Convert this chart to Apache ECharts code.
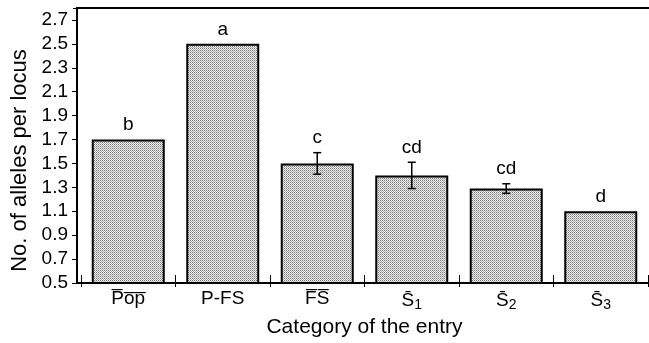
<!DOCTYPE html>
<html>
<head>
<meta charset="utf-8">
<script src="https://cdn.jsdelivr.net/npm/echarts@6/dist/echarts.min.js"></script>
<style>
html,body{margin:0;padding:0;background:#fff;}
#chart{width:649px;height:343px;}
</style>
</head>
<body>
<div id="chart"></div>
<script>
// ---- data ----
const categories = ['P\u0305o\u0305p\u0305', 'P-FS', 'F\u0305S\u0305', 'S\u03041', 'S\u03042', 'S\u03043'];
const means = [1.7, 2.5, 1.5, 1.4, 1.29, 1.1];
const errors = [0, 0, 0.09, 0.11, 0.04, 0];
const letters = ['b', 'a', 'c', 'cd', 'cd', 'd'];
const yMin = 0.5, yMax = 2.8, yStep = 0.2;
const yName = 'No. of alleles per locus';
const xName = 'Category of the entry';

const FONT = '"Liberation Sans", Arial, Helvetica, sans-serif';

// stipple fill pattern
const cv = document.createElement('canvas');
cv.width = 2; cv.height = 2;
const cx = cv.getContext('2d');
cx.fillStyle = '#ececec'; cx.fillRect(0, 0, 2, 2);
cx.fillStyle = '#7a7a7a'; cx.fillRect(0, 0, 1, 1);
cx.fillStyle = '#b0b0b0'; cx.fillRect(1, 1, 1, 1);

const chart = echarts.init(document.getElementById('chart'), null, {renderer: 'canvas'});

function catLabel(v) {
  const m = v.match(/^(.*?)(\d)$/);
  if (m) return '{m|' + m[1] + '}{s|' + m[2] + '}';
  return '{m|' + v + '}';
}

const option = {
  animation: false,
  backgroundColor: '#fff',
  textStyle: {fontFamily: FONT, color: '#000'},
  grid: [
    {left: 77, right: 0, top: 8, bottom: 60},
    {left: 81, right: 1, top: 8, bottom: 60}
  ],
  xAxis: [
    {gridIndex: 0, type: 'value', min: 0, max: 1, position: 'bottom',
     axisLine: {show: true, lineStyle: {color: '#000', width: 2}},
     axisTick: {show: false}, axisLabel: {show: false}, splitLine: {show: false}},
    {gridIndex: 0, type: 'value', min: 0, max: 1, position: 'top',
     axisLine: {show: true, lineStyle: {color: '#000', width: 2}},
     axisTick: {show: false}, axisLabel: {show: false}, splitLine: {show: false}},
    {gridIndex: 1, type: 'category', data: categories, position: 'bottom',
     axisLine: {show: false},
     axisTick: {show: true, length: 4, lineStyle: {color: '#000', width: 1}},
     axisLabel: {margin: 6, color: '#000', formatter: catLabel,
       rich: {
         m: {fontFamily: FONT, fontSize: 19, color: '#000'},
         s: {fontFamily: FONT, fontSize: 14, color: '#000', padding: [9, 0, 0, 0]}
       }},
     name: xName, nameLocation: 'middle', nameGap: 27,
     nameTextStyle: {fontFamily: FONT, fontSize: 21, color: '#000'}},
    {gridIndex: 1, type: 'category', data: categories, position: 'bottom',
     axisLine: {show: false},
     axisTick: {show: true, inside: true, length: 8, lineStyle: {color: '#000', width: 1}},
     axisLabel: {show: false}}
  ],
  yAxis: [
    {gridIndex: 0, type: 'value', min: yMin, max: yMax, interval: yStep,
     axisLine: {show: true, lineStyle: {color: '#000', width: 2}},
     axisTick: {show: true, length: 5, lineStyle: {color: '#000', width: 1}},
     axisLabel: {margin: 9, color: '#000', fontFamily: FONT, fontSize: 19, showMaxLabel: false,
       formatter: v => v.toFixed(1)},
     splitLine: {show: false},
     name: yName, nameLocation: 'middle', nameGap: 45, nameRotate: 90,
     nameTextStyle: {fontFamily: FONT, fontSize: 22, color: '#000', padding: [0, 30, 0, 0]}},
    {gridIndex: 0, type: 'value', min: yMin, max: yMax, interval: yStep,
     axisLine: {show: false},
     axisTick: {show: true, inside: true, length: 4, lineStyle: {color: '#000', width: 1}},
     axisLabel: {show: false}, splitLine: {show: false}},
    {gridIndex: 1, type: 'value', min: yMin, max: yMax, show: false}
  ],
  series: [
    {type: 'bar', xAxisIndex: 2, yAxisIndex: 2, data: means, barWidth: 73,
     itemStyle: {color: {image: cv, repeat: 'repeat'}, borderColor: '#000', borderWidth: 2}},
    {type: 'custom', xAxisIndex: 2, yAxisIndex: 2, z: 5,
     data: categories.map((c, i) => [i, means[i], errors[i]]),
     encode: {x: 0, y: 1},
     renderItem: function (params, api) {
       const i = api.value(0), m = api.value(1), e = api.value(2);
       const top = api.coord([i, m + e]);
       const bot = api.coord([i, m - e]);
       const children = [];
       if (e > 0) {
         const st = {stroke: '#000', lineWidth: 1.5};
         children.push({type: 'line', shape: {x1: top[0], y1: top[1], x2: bot[0], y2: bot[1]}, style: st});
         children.push({type: 'line', shape: {x1: top[0] - 4, y1: top[1], x2: top[0] + 4, y2: top[1]}, style: st});
         children.push({type: 'line', shape: {x1: bot[0] - 4, y1: bot[1], x2: bot[0] + 4, y2: bot[1]}, style: st});
       }
       children.push({type: 'text', style: {text: letters[i], x: top[0], y: top[1] - 5,
         textAlign: 'center', textVerticalAlign: 'bottom', fill: '#000',
         font: '19px ' + FONT}});
       return {type: 'group', children: children};
     }}
  ]
};
chart.setOption(option);
</script>
</body>
</html>
